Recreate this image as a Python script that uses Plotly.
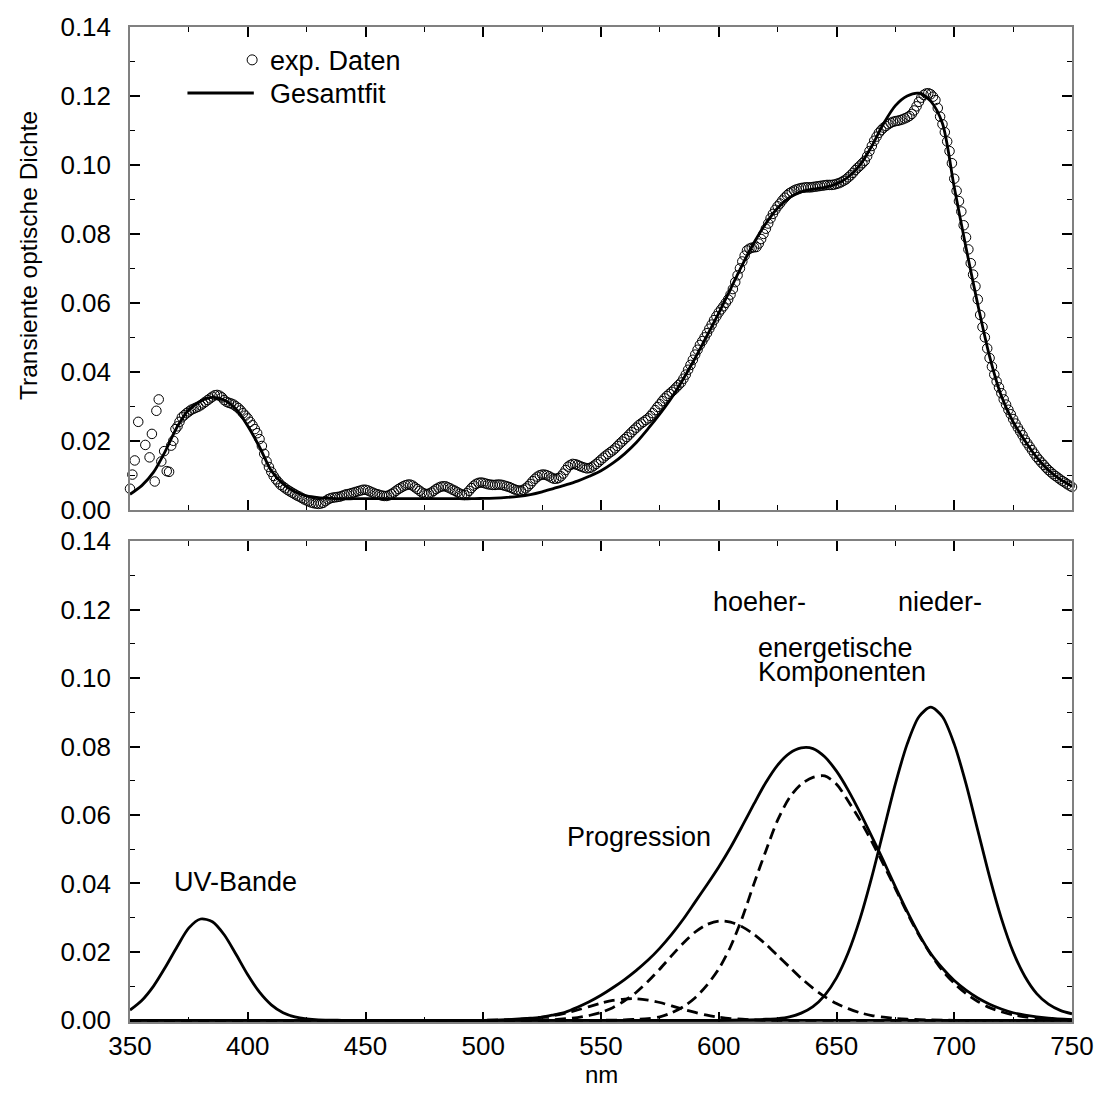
import plotly.graph_objects as go

# ---------------- data ----------------
# experimental points, top panel (noisy start listed explicitly)
exp_nm_start = [350.0, 351.0, 352.0, 353.5, 356.5, 358.3, 359.3, 360.5, 361.2, 362.2,
                363.3, 364.5, 365.6, 366.6, 367.5, 368.4, 369.3, 370.2, 371.0]
exp_od_start = [0.0061, 0.0102, 0.0143, 0.0255, 0.0188, 0.0152, 0.0220, 0.0082, 0.0287, 0.0320,
                0.0140, 0.0170, 0.0112, 0.0110, 0.0186, 0.0200, 0.0234, 0.0242, 0.0255]
# 1 nm sampled points from 372 nm to 750 nm
exp_nm_main = list(range(372, 751))
exp_od_main = [
    0.0268, 0.0274, 0.0280, 0.0285, 0.0290, 0.0293, 0.0296, 0.0299, 0.0303, 0.0308,
    0.0313, 0.0318, 0.0323, 0.0328, 0.0332, 0.0333, 0.0331, 0.0326, 0.0318, 0.0313,
    0.0310, 0.0308, 0.0305, 0.0300, 0.0295, 0.0288, 0.0280, 0.0273, 0.0265, 0.0255,
    0.0245, 0.0234, 0.0222, 0.0205, 0.0185, 0.0162, 0.0140, 0.0124, 0.0110, 0.0098,
    0.0088, 0.0080, 0.0072, 0.0067, 0.0062, 0.0057, 0.0053, 0.0049, 0.0045, 0.0041,
    0.0038, 0.0034, 0.0030, 0.0027, 0.0024, 0.0021, 0.0019, 0.0018, 0.0017, 0.0018,
    0.0020, 0.0025, 0.0030, 0.0033, 0.0035, 0.0036, 0.0037, 0.0038, 0.0040, 0.0043,
    0.0045, 0.0046, 0.0048, 0.0050, 0.0052, 0.0054, 0.0056, 0.0058, 0.0058, 0.0056,
    0.0053, 0.0050, 0.0047, 0.0045, 0.0043, 0.0041, 0.0040, 0.0040, 0.0042, 0.0046,
    0.0050, 0.0055, 0.0060, 0.0064, 0.0068, 0.0071, 0.0073, 0.0073, 0.0070, 0.0065,
    0.0060, 0.0055, 0.0050, 0.0047, 0.0045, 0.0047, 0.0050, 0.0055, 0.0060, 0.0064,
    0.0067, 0.0068, 0.0068, 0.0065, 0.0062, 0.0058, 0.0055, 0.0051, 0.0047, 0.0044,
    0.0043, 0.0048, 0.0055, 0.0063, 0.0070, 0.0075, 0.0078, 0.0079, 0.0078, 0.0076,
    0.0074, 0.0073, 0.0072, 0.0072, 0.0073, 0.0073, 0.0072, 0.0070, 0.0068, 0.0066,
    0.0063, 0.0060, 0.0057, 0.0056, 0.0055, 0.0058, 0.0062, 0.0068, 0.0075, 0.0083,
    0.0090, 0.0096, 0.0100, 0.0102, 0.0102, 0.0100, 0.0097, 0.0093, 0.0090, 0.0090,
    0.0092, 0.0097, 0.0105, 0.0115, 0.0125, 0.0130, 0.0133, 0.0132, 0.0130, 0.0127,
    0.0124, 0.0122, 0.0120, 0.0121, 0.0123, 0.0128, 0.0133, 0.0139, 0.0145, 0.0151,
    0.0157, 0.0162, 0.0167, 0.0172, 0.0178, 0.0185, 0.0192, 0.0198, 0.0205, 0.0211,
    0.0218, 0.0225, 0.0232, 0.0238, 0.0245, 0.0250, 0.0255, 0.0260, 0.0265, 0.0272,
    0.0280, 0.0289, 0.0298, 0.0306, 0.0315, 0.0323, 0.0330, 0.0336, 0.0342, 0.0348,
    0.0355, 0.0362, 0.0369, 0.0380, 0.0392, 0.0406, 0.0420, 0.0435, 0.0450, 0.0464,
    0.0478, 0.0489, 0.0500, 0.0512, 0.0525, 0.0537, 0.0550, 0.0561, 0.0572, 0.0581,
    0.0590, 0.0600, 0.0610, 0.0624, 0.0640, 0.0660, 0.0680, 0.0700, 0.0720, 0.0737,
    0.0752, 0.0757, 0.0760, 0.0761, 0.0762, 0.0772, 0.0785, 0.0800, 0.0815, 0.0830,
    0.0845, 0.0858, 0.0870, 0.0880, 0.0888, 0.0897, 0.0905, 0.0912, 0.0918, 0.0922,
    0.0926, 0.0929, 0.0931, 0.0933, 0.0934, 0.0935, 0.0935, 0.0935, 0.0936, 0.0937,
    0.0938, 0.0939, 0.0940, 0.0941, 0.0942, 0.0942, 0.0942, 0.0943, 0.0945, 0.0947,
    0.0950, 0.0954, 0.0958, 0.0964, 0.0970, 0.0977, 0.0985, 0.0992, 0.0998, 0.1005,
    0.1012, 0.1025, 0.1040, 0.1055, 0.1070, 0.1082, 0.1093, 0.1101, 0.1108, 0.1113,
    0.1118, 0.1122, 0.1125, 0.1127, 0.1128, 0.1130, 0.1132, 0.1135, 0.1138, 0.1142,
    0.1148, 0.1158, 0.1170, 0.1183, 0.1195, 0.1203, 0.1207, 0.1208, 0.1205, 0.1198,
    0.1188, 0.1165, 0.1140, 0.1118, 0.1095, 0.1068, 0.1040, 0.1005, 0.0960, 0.0925,
    0.0895, 0.0865, 0.0825, 0.0790, 0.0755, 0.0715, 0.0682, 0.0648, 0.0610, 0.0565,
    0.0530, 0.0500, 0.0468, 0.0440, 0.0415, 0.0392, 0.0372, 0.0355, 0.0338, 0.0320,
    0.0305, 0.0290, 0.0277, 0.0263, 0.0250, 0.0238, 0.0227, 0.0216, 0.0203, 0.0193,
    0.0183, 0.0173, 0.0163, 0.0153, 0.0145, 0.0137, 0.0130, 0.0122, 0.0115, 0.0109,
    0.0103, 0.0098, 0.0093, 0.0088, 0.0083, 0.0079, 0.0074, 0.0070, 0.0066]

# overall fit, top panel (5 nm grid)
fit_nm = list(range(350, 751, 5))
fit_od = [
    0.0045, 0.0070, 0.0109, 0.0170, 0.0240, 0.0290, 0.0315, 0.0326, 0.0318, 0.0292,
    0.0243, 0.0182, 0.0113, 0.0075, 0.0052, 0.0040, 0.0035, 0.0033, 0.0032, 0.0032,
    0.0032, 0.0032, 0.0032, 0.0032, 0.0032, 0.0032, 0.0032, 0.0032, 0.0032, 0.0032,
    0.0033, 0.0034, 0.0036, 0.0039, 0.0044, 0.0052, 0.0062, 0.0072, 0.0083, 0.0097,
    0.0113, 0.0135, 0.0162, 0.0195, 0.0235, 0.0278, 0.0325, 0.0380, 0.0440, 0.0505,
    0.0570, 0.0640, 0.0710, 0.0775, 0.0830, 0.0875, 0.0905, 0.0922, 0.0930, 0.0935,
    0.0945, 0.0965, 0.1000, 0.1055, 0.1120, 0.1172, 0.1200, 0.1208, 0.1185, 0.1120,
    0.0935, 0.0760, 0.0595, 0.0445, 0.0330, 0.0255, 0.0200, 0.0152, 0.0115, 0.0088,
    0.0068]

# bottom panel components
uv_nm = [350, 355, 360, 365, 370, 375, 380, 385, 390, 395, 400, 405, 410, 415, 420,
         425, 430, 440, 500, 600, 700, 750]
uv_od = [0.0030, 0.0058, 0.0100, 0.0155, 0.0215, 0.0270, 0.0296, 0.0288, 0.0250, 0.0193,
         0.0133, 0.0082, 0.0045, 0.0022, 0.0010, 0.0004, 0.0001, 0.0, 0.0, 0.0, 0.0, 0.0]

small_nm = [350, 450, 500, 510, 515, 520, 525, 530, 535, 540, 545, 550, 555, 560, 565,
            570, 575, 580, 585, 590, 595, 600, 605, 610, 615, 620, 650, 700, 750]
small_od = [0.0, 0.0, 0.0, 0.0001, 0.0003, 0.0005, 0.0009, 0.0014, 0.0021, 0.0030, 0.0040,
            0.0050, 0.0058, 0.0062, 0.0063, 0.0059, 0.0052, 0.0042, 0.0032, 0.0023, 0.0015,
            0.0009, 0.0005, 0.0003, 0.0001, 0.0, 0.0, 0.0, 0.0]

mid_nm = [350, 450, 500, 520, 530, 540, 545, 550, 555, 560, 565, 570, 575, 580, 585, 590,
          595, 600, 605, 610, 615, 620, 625, 630, 635, 640, 645, 650, 655, 660, 665, 670,
          675, 680, 690, 700, 750]
mid_od = [0.0, 0.0, 0.0, 0.0001, 0.0002, 0.0008, 0.0014, 0.0023, 0.0037, 0.0057, 0.0082,
          0.0114, 0.0150, 0.0189, 0.0226, 0.0258, 0.0280, 0.0290, 0.0287, 0.0273, 0.0251,
          0.0222, 0.0189, 0.0156, 0.0123, 0.0094, 0.0069, 0.0049, 0.0034, 0.0022, 0.0014,
          0.0009, 0.0005, 0.0003, 0.0001, 0.0, 0.0]

big_nm = [350, 450, 500, 550, 560, 565, 570, 575, 580, 585, 590, 595, 600, 605, 610, 615,
          620, 625, 630, 635, 640, 645, 650, 655, 660, 665, 670, 675, 680, 685, 690, 695,
          700, 705, 710, 715, 720, 725, 730, 735, 740, 745, 750]
big_od = [0.0, 0.0, 0.0, 0.0, 0.0001, 0.0003, 0.0005, 0.0010, 0.0022, 0.0040, 0.0066,
          0.0103, 0.0150, 0.0215, 0.0300, 0.0400, 0.0495, 0.0585, 0.0650, 0.0690, 0.0710,
          0.0714, 0.0690, 0.0640, 0.0585, 0.0522, 0.0455, 0.0385, 0.0314, 0.0249, 0.0193,
          0.0145, 0.0108, 0.0078, 0.0055, 0.0037, 0.0025, 0.0016, 0.0010, 0.0006, 0.0004,
          0.0002, 0.0001]

high_nm = [350, 450, 500, 510, 520, 525, 530, 535, 540, 545, 550, 555, 560, 565, 570, 575,
           580, 585, 590, 595, 600, 605, 610, 615, 620, 625, 630, 635, 640, 645, 650, 655,
           660, 665, 670, 675, 680, 685, 690, 695, 700, 705, 710, 715, 720, 725, 730, 740, 750]
high_od = [0.0, 0.0, 0.0, 0.0002, 0.0006, 0.0009, 0.0016, 0.0024, 0.0038, 0.0054, 0.0073,
           0.0095, 0.0119, 0.0146, 0.0176, 0.0211, 0.0251, 0.0296, 0.0346, 0.0396, 0.0448,
           0.0505, 0.0568, 0.0633, 0.0695, 0.0746, 0.0780, 0.0796, 0.0794, 0.0770, 0.0728,
           0.0672, 0.0607, 0.0537, 0.0465, 0.0390, 0.0318, 0.0252, 0.0195, 0.0152, 0.0116,
           0.0088, 0.0065, 0.0047, 0.0033, 0.0022, 0.0015, 0.0006, 0.0002]

low_nm = [350, 450, 550, 600, 610, 620, 625, 630, 635, 640, 645, 650, 655, 660, 665, 670,
          675, 680, 685, 690, 695, 700, 705, 710, 715, 720, 725, 730, 735, 740, 745, 750]
low_od = [0.0, 0.0, 0.0, 0.0, 0.0001, 0.0003, 0.0005, 0.0010, 0.0021, 0.0040, 0.0073,
          0.0124, 0.0198, 0.0297, 0.0419, 0.0555, 0.0691, 0.0807, 0.0887, 0.0915, 0.0887,
          0.0807, 0.0691, 0.0555, 0.0419, 0.0298, 0.0200, 0.0128, 0.0078, 0.0047, 0.0029,
          0.0019]

x_ticks = [350, 400, 450, 500, 550, 600, 650, 700, 750]
y_ticks = [0.00, 0.02, 0.04, 0.06, 0.08, 0.10, 0.12, 0.14]

# ---------------- figure ----------------
W, H = 1106, 1095
ML, MR, MT, MB = 130, 25, 23, 73
PW, PH = W - ML - MR, H - MT - MB


def px(xp):
    return (xp - ML) / PW


def py(yp):
    return (H - MB - yp) / PH


FONT = "Liberation Sans, Arial, Helvetica, sans-serif"
LW = 2.8
DASH = "11px,6px"

fig = go.Figure()

fig.add_trace(go.Scatter(
    x=exp_nm_start + exp_nm_main,
    y=exp_od_start + exp_od_main,
    mode="markers", xaxis="x2", yaxis="y2",
    marker=dict(symbol="circle-open", size=9.5, color="black", line=dict(width=1, color="black")),
    cliponaxis=False, showlegend=False))
fig.add_trace(go.Scatter(x=fit_nm, y=fit_od, mode="lines", xaxis="x2", yaxis="y2",
                         line=dict(color="black", width=LW, shape="spline", smoothing=0.8),
                         showlegend=False))

for xs, ys, dash in [(uv_nm, uv_od, None), (small_nm, small_od, DASH), (mid_nm, mid_od, DASH),
                     (big_nm, big_od, DASH), (high_nm, high_od, None), (low_nm, low_od, None)]:
    fig.add_trace(go.Scatter(x=xs, y=ys, mode="lines", xaxis="x", yaxis="y",
                             line=dict(color="black", width=LW, shape="spline", smoothing=0.8,
                                       dash=dash or "solid"),
                             showlegend=False))

axis_common = dict(
    showline=True, linecolor="#808080", linewidth=1.5, mirror="allticks",
    ticks="inside", tickcolor="black", tickwidth=1.5, ticklen=10,
    showgrid=False, zeroline=False,
    tickfont=dict(family=FONT, size=26, color="black"),
)

y_top = py(507.7)
y_bot_top = py(539.3)
minor_x = dict(dtick=25, tick0=350, ticklen=5, tickwidth=1, tickcolor="black", ticks="inside")
minor_y = dict(dtick=0.01, tick0=0, ticklen=5, tickwidth=1, tickcolor="black", ticks="inside")

fig.update_layout(
    width=W, height=H,
    margin=dict(l=ML, r=MR, t=MT, b=MB),
    paper_bgcolor="white", plot_bgcolor="white",
    font=dict(family=FONT, size=26, color="black"),
    showlegend=False,
    xaxis=dict(axis_common, range=[350, 750], tickvals=x_ticks, anchor="y", minor=minor_x),
    yaxis=dict(axis_common, range=[-0.0005, 0.14], tickvals=y_ticks, tickformat=".2f",
               domain=[0, y_bot_top], anchor="x", minor=minor_y, ticklabelstandoff=12),
    xaxis2=dict(axis_common, range=[350, 750], tickvals=x_ticks, anchor="y2", matches="x",
                showticklabels=False, minor=minor_x),
    yaxis2=dict(axis_common, range=[0, 0.14], tickvals=y_ticks, tickformat=".2f",
                domain=[y_top, 1], anchor="x2", minor=minor_y, ticklabelstandoff=12),
)

# manual legend
fig.add_shape(type="circle", xref="paper", yref="paper", xsizemode="pixel", ysizemode="pixel",
              xanchor=px(253.3), yanchor=py(56), x0=-5, x1=5, y0=-5, y1=5,
              line=dict(color="black", width=1))
fig.add_shape(type="line", xref="paper", yref="paper", x0=px(188), x1=px(255), y0=py(89.3), y1=py(89.3),
              line=dict(color="black", width=3))

ann = [
    ("exp. Daten", 269, 57),
    ("Gesamtfit", 269, 90),
    ("UV-Bande", 172, 881),
    ("Progression", 569, 836),
    ("hoeher-", 717, 600),
    ("nieder-", 903, 600),
    ("energetische", 762, 646),
    ("Komponenten", 762, 671),
]
for text, xp, yp in ann:
    fig.add_annotation(text=text, xref="paper", yref="paper", x=px(xp), y=py(yp),
                       xanchor="left", yanchor="middle", showarrow=False,
                       font=dict(family=FONT, size=27, color="black"))

fig.add_annotation(text="Transiente optische Dichte", xref="paper", yref="paper",
                   x=px(27), y=py(252), xanchor="center", yanchor="middle", textangle=-90,
                   showarrow=False, font=dict(family=FONT, size=24.5, color="black"))
fig.add_annotation(text="nm", xref="paper", yref="paper", x=0.5, y=py(1075),
                   xanchor="center", yanchor="middle", showarrow=False,
                   font=dict(family=FONT, size=24, color="black"))

fig.write_html("out.html")
